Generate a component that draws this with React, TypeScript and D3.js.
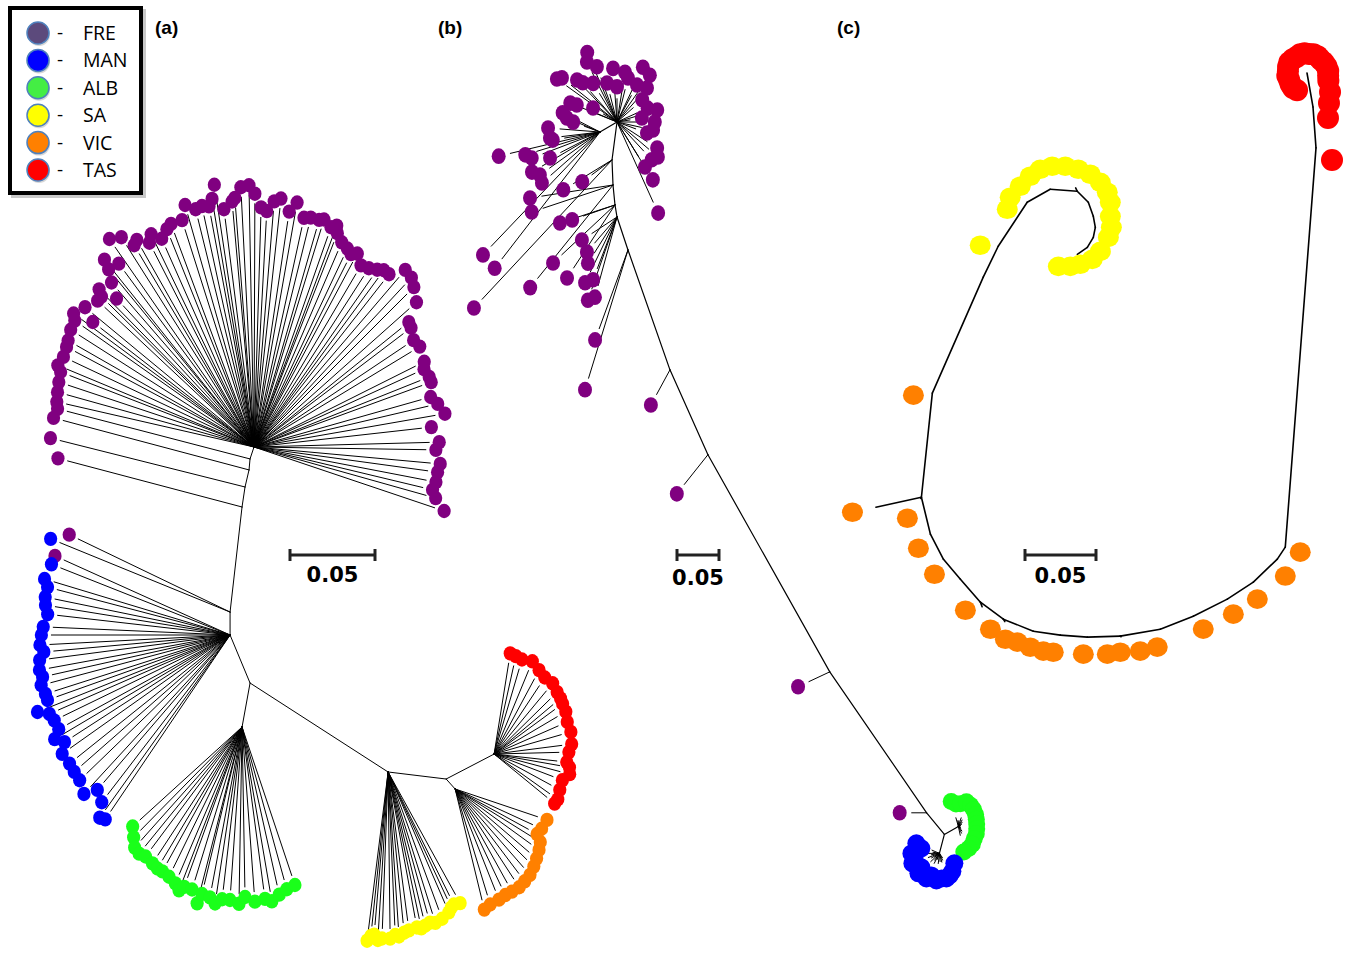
import React from "react";
import * as d3 from "d3";

// ---------- legend / labels ----------
const POPS = ["FRE", "MAN", "ALB", "SA", "VIC", "TAS"];
const PANEL_LABELS = ["(a)", "(b)", "(c)"];
const SCALE_BAR_VALUE = 50; // 0.05 substitutions per site, branch lengths below are in 0.001 units
const SCALE_BAR_LABEL = "0.05";

// ---------- panel (a): NJ tree, edges = [node, parent, angle°, length] ----------
const A_EDGES: [string, string, number, number][] = [
  ["t1", "FRE", -161.6, 7.4], ["t2", "t1", -174.8, 6.5], ["t3", "t2", -166.8, 10.3],
  ["n2", "t3", -171.5, 11.9], ["n3", "n2", -173.5, 62.2], ["MAN", "n3", 180, 13.5],
  ["n5", "MAN", 157.4, 30.6], ["ALB", "n5", -169.7, 26.3], ["SA", "n5", 122.8, 96.6],
  ["n8", "SA", 96.9, 34.4], ["TAS", "n8", 62.5, 31.8], ["VIC", "n8", 138, 7.9],
];
// leaves = [attach node, angle°, length]
const A_FRE: [string, number, number][] = [
  ["n2", -75.2, 112], ["t3", -75.9, 118], ["t2", -75.1, 119], ["t1", -75.4, 117],
  ["FRE", -77.1, 119], ["FRE", -74.4, 120], ["FRE", -71.6, 121], ["FRE", -68.8, 122], ["FRE", -67.4, 125],
  ["FRE", -64.7, 124], ["FRE", -61.9, 125], ["FRE", -60.2, 126], ["FRE", -57.4, 128], ["FRE", -54.8, 129],
  ["FRE", -53.5, 132], ["FRE", -50.4, 129], ["FRE", -52.2, 120], ["FRE", -46.9, 126], ["FRE", -45.4, 126],
  ["FRE", -44.5, 130], ["FRE", -40.9, 128], ["FRE", -42.8, 119], ["FRE", -39.3, 135], ["FRE", -36.4, 134],
  ["FRE", -38.6, 141], ["FRE", -34.8, 149], ["FRE", -32.3, 146], ["FRE", -30.7, 138], ["FRE", -29.5, 140],
  ["FRE", -27.1, 135], ["FRE", -25.8, 139], ["FRE", -23.9, 134], ["FRE", -21.8, 138], ["FRE", -20.4, 140],
  ["FRE", -17.6, 140], ["FRE", -15.9, 148], ["FRE", -13.8, 144], ["FRE", -12.2, 145], ["FRE", -10.6, 144],
  ["FRE", -9.6, 148], ["FRE", -8.6, 156], ["FRE", -7.2, 141], ["FRE", -5.1, 145], ["FRE", -4.4, 147],
  ["FRE", -2.9, 153], ["FRE", -1.1, 154], ["FRE", 0.2, 149], ["FRE", 1.7, 141], ["FRE", 3.1, 139],
  ["FRE", 4.7, 145], ["FRE", 6.2, 147], ["FRE", 8.5, 140], ["FRE", 10.0, 146], ["FRE", 12.3, 138],
  ["FRE", 13.9, 139], ["FRE", 16.0, 139], ["FRE", 17.1, 140], ["FRE", 19.3, 137], ["FRE", 20.5, 139],
  ["FRE", 21.3, 135], ["FRE", 23.2, 131], ["FRE", 25.2, 129], ["FRE", 26.7, 127], ["FRE", 28.1, 129],
  ["FRE", 30.5, 124], ["FRE", 32.7, 125], ["FRE", 34.8, 127], ["FRE", 36.3, 129], ["FRE", 38.0, 129],
  ["FRE", 40.5, 137], ["FRE", 42.9, 136], ["FRE", 45.0, 133], ["FRE", 48.3, 128], ["FRE", 51.1, 117],
  ["FRE", 52.8, 116], ["FRE", 56.2, 113], ["FRE", 58.8, 114], ["FRE", 63.4, 112], ["FRE", 65.4, 110],
  ["FRE", 68.2, 111], ["FRE", 69.9, 111], ["FRE", 74.2, 108], ["FRE", 76.8, 111], ["FRE", 80.1, 114],
  ["FRE", 83.6, 105], ["FRE", 88.5, 109], ["FRE", 90.9, 107], ["FRE", 95.2, 110], ["FRE", 97.8, 109],
  ["FRE", 100.9, 109], ["FRE", 103.5, 108], ["FRE", 105.7, 111], ["FRE", 108.6, 118],
  ["n3", -64.3, 105], ["MAN", -65.7, 113],
];
const A_MAN: [string, number, number][] = [
  ["n3", -67.8, 114],
  ["MAN", -68.4, 113], ["MAN", -73.2, 114], ["MAN", -75.3, 111], ["MAN", -78.4, 111], ["MAN", -80.8, 110],
  ["MAN", -83.5, 108], ["MAN", -87.5, 110], ["MAN", -90, 111], ["MAN", -93, 112], ["MAN", -95.2, 110],
  ["MAN", -97.5, 113], ["MAN", -100.4, 114], ["MAN", -102.6, 113], ["MAN", -104.9, 115], ["MAN", -107.7, 114],
  ["MAN", -109.6, 114], ["MAN", -111.8, 122], ["MAN", -113.6, 116], ["MAN", -115.9, 115], ["MAN", -118.8, 115],
  ["MAN", -120.7, 120], ["MAN", -122.9, 116], ["MAN", -125.3, 121], ["MAN", -128.7, 121], ["MAN", -131.3, 122],
  ["MAN", -134.0, 123], ["MAN", -137.4, 127], ["MAN", -139.4, 120], ["MAN", -142.5, 124], ["MAN", -144.5, 132],
  ["MAN", -145.9, 131],
];
const A_ALB: [string, number, number][] = [
  ["ALB", -132.3, 87], ["ALB", -135.5, 91], ["ALB", -138.3, 95], ["ALB", -140.9, 96], ["ALB", -143.3, 95],
  ["ALB", -146.7, 96], ["ALB", -149.1, 97], ["ALB", -151.1, 97], ["ALB", -154.0, 98], ["ALB", -156.9, 100],
  ["ALB", -158.9, 103], ["ALB", -160.1, 100], ["ALB", -162.9, 100], ["ALB", -165.7, 107], ["ALB", -166.5, 101],
  ["ALB", -169.3, 102], ["ALB", -171.3, 105], ["ALB", -173.4, 102], ["ALB", -176.0, 102], ["ALB", -179.0, 104],
  ["ALB", 179.0, 100], ["ALB", 175.8, 103], ["ALB", 172.4, 102], ["ALB", 170.3, 104], ["ALB", 167.5, 101],
  ["ALB", 164.6, 99], ["ALB", 161.5, 98],
];
const A_SA: [string, number, number][] = [
  ["SA", -172.9, 100], ["SA", -174.0, 97], ["SA", -175.1, 96], ["SA", -176.5, 99], ["SA", -177.9, 98],
  ["SA", 179.3, 98], ["SA", 177.5, 96], ["SA", 176.2, 97], ["SA", 174.3, 95], ["SA", 172.5, 94],
  ["SA", 169.5, 93], ["SA", 168.0, 94], ["SA", 166.4, 93], ["SA", 164.5, 92], ["SA", 162.6, 93],
  ["SA", 159.8, 92], ["SA", 156.6, 90], ["SA", 155.0, 88], ["SA", 153.6, 87], ["SA", 151.2, 88],
];
const A_VIC: [string, number, number][] = [
  ["VIC", 166.4, 73], ["VIC", 163.1, 71], ["VIC", 158.4, 70], ["VIC", 154.7, 69], ["VIC", 151.0, 69],
  ["VIC", 146.9, 69], ["VIC", 143.0, 68], ["VIC", 138.9, 67], ["VIC", 134.6, 65], ["VIC", 130.5, 63],
  ["VIC", 126.0, 61], ["VIC", 121.9, 59], ["VIC", 118.8, 55], ["VIC", 114.7, 56], ["VIC", 108.6, 57],
];
const A_TAS: [string, number, number][] = [
  ["TAS", 9.1, 60], ["TAS", 12.5, 59], ["TAS", 16.4, 58], ["TAS", 22.4, 59], ["TAS", 28.2, 56],
  ["TAS", 33.5, 54], ["TAS", 39.6, 54], ["TAS", 45.5, 52], ["TAS", 50.0, 51], ["TAS", 53.7, 50],
  ["TAS", 59.4, 49], ["TAS", 66.3, 47], ["TAS", 73.9, 47], ["TAS", 82.7, 46], ["TAS", 88.5, 44],
  ["TAS", 96.3, 43], ["TAS", 100.0, 45], ["TAS", 104.9, 46], ["TAS", 110.9, 43], ["TAS", 118.6, 44],
  ["TAS", 125.5, 46], ["TAS", 129.3, 46],
];

// ---------- panel (b) ----------
const B_EDGES: [string, string, number, number][] = [
  ["L", "FRE", -120.5, 23.5], ["T1", "FRE", -172.5, 45.6], ["T2", "T1", 177.7, 29.8],
  ["T3", "T2", 174.3, 23.9], ["T4", "T3", 170.5, 14.5], ["P1", "T4", 161.6, 41.4],
  ["B1", "P1", 160.7, 151.2], ["B2", "B1", 155.9, 110.7], ["B3", "B2", 150.7, 296.4],
  ["B4", "B3", 145.5, 203.6], ["B5", "B4", 140.7, 33.3], ["ALB", "B5", 60.3, 19.2],
  ["MAN", "B5", -165.3, 23.3],
];
const B_FRE: [string, number, number][] = [
  ["FRE", -23.2, 90], ["FRE", -26.6, 80], ["FRE", -20.0, 70], ["FRE", -4.2, 64], ["FRE", 25.3, 72],
  ["FRE", -54.4, 88], ["FRE", -51.3, 84], ["FRE", -43.6, 69], ["FRE", -41.1, 62], ["FRE", -31.6, 54],
  ["FRE", -14.4, 48], ["FRE", 0, 42], ["FRE", 14.0, 54], ["FRE", 28.4, 50], ["FRE", 41.4, 54],
  ["FRE", -68.0, 60], ["FRE", -67.0, 52], ["FRE", -59.7, 33], ["FRE", 48.7, 40], ["FRE", 65.7, 40],
  ["FRE", 73.3, 50], ["FRE", 80.9, 30], ["FRE", 90, 45], ["FRE", 102.5, 44], ["FRE", 110.1, 38],
  ["FRE", 123.0, 57], ["FRE", 130.5, 64], ["FRE", 137.4, 61], ["FRE", 148.1, 63], ["FRE", 148.2, 81],
  ["FRE", 155.7, 119], ["FRE", 9.1, 60], ["FRE", 35.1, 68],
  ["L", -62.8, 50], ["L", -67.0, 43], ["L", -69.7, 34], ["L", -85.6, 62], ["L", -96.8, 60],
  ["L", -99.7, 57], ["L", -103.4, 124], ["L", -107.0, 93], ["L", -110.9, 87], ["L", -117.5, 67],
  ["L", -120.5, 94], ["L", -125.6, 88], ["L", -131.3, 92], ["L", -136.4, 202], ["L", -142.3, 205],
  ["T1", -121.5, 68], ["T1", -126.3, 44], ["T1", -137.0, 241],
  ["T2", -98.9, 100], ["T2", -108.4, 102], ["T2", -141.1, 157],
  ["T3", -108.1, 69], ["T3", -109.2, 54], ["T3", -133.1, 101], ["T3", -146.7, 104],
  ["T4", -123.3, 50], ["T4", -139.4, 55], ["T4", -147.8, 65], ["T4", -154.1, 87], ["T4", -159.1, 80],
  ["T4", -160.7, 105], ["T4", -164.6, 99],
  ["P1", -159.9, 114], ["P1", -162.9, 174],
  ["B1", -151.5, 47.6], ["B2", -141.5, 59.5], ["B3", -115.1, 41.7], ["B4", -90, 32.1],
];
const B_ALB: [string, number, number][] = [
  ["ALB", -16, 31], ["ALB", -6, 27], ["ALB", 5, 27], ["ALB", 18, 31], ["ALB", 30, 29],
  ["ALB", 42, 27], ["ALB", 55, 25], ["ALB", 68, 23], ["ALB", 82, 22], ["ALB", 97, 22],
  ["ALB", 112, 23], ["ALB", 128, 24], ["ALB", 142, 27], ["ALB", 155, 29], ["ALB", 168, 31],
];
const B_MAN: [string, number, number][] = [
  ["MAN", -66.5, 29.9], ["MAN", -74.5, 22.3], ["MAN", -80, 28], ["MAN", -90, 33.3], ["MAN", -100, 30],
  ["MAN", -110.3, 34.3], ["MAN", -120, 31], ["MAN", -127.9, 27.1], ["MAN", -133.6, 34.5], ["MAN", -145, 30],
  ["MAN", -152.5, 33.6], ["MAN", -160, 28], ["MAN", -173.7, 32.4], ["MAN", 175, 30], ["MAN", 164.4, 31],
  ["MAN", 155, 29], ["MAN", 144.2, 26.4], ["MAN", 123.7, 21.4],
];

// ---------- panel (c) ----------
const C_EDGES: [string, string, number, number][] = [
  ["c1", "TAS", 170.0, 24.3], ["c2", "c1", 175.8, 28.9], ["c3", "c2", -175.6, 282],
  ["c4", "c3", -146.3, 10.1], ["c5", "c4", -133.8, 23.4], ["c6", "c5", -123.2, 21.9],
  ["c7", "c6", -116.6, 26.8], ["c8", "c7", -111.5, 25.0], ["c9", "c8", -99.9, 28.6],
  ["c10", "c9", -91.7, 23.2], ["c10b", "c10", -85.8, 19.1], ["c11", "c10b", -81.6, 19.2],
  ["c12", "c11", -68.2, 22.7], ["c13", "c12", -53.5, 20.1], ["c14", "c13", -41.0, 21.5],
  ["c15", "c14", -40.4, 18.4], ["c16", "c15", -27.5, 19.9], ["c17", "c16", -13.7, 26.8],
  ["c18", "c17", 6.0, 73.7], ["c19", "c18", 23.7, 89.2], ["c20", "c19", 25.8, 24.2],
  ["c21", "c20", 33.4, 37.1], ["c22", "c21", 60.5, 18.6], ["c23", "c22", 94.2, 19.1],
  ["c24", "c23", 135, 11.0], ["c25", "c24", 160.3, 10.5], ["c26", "c25", 169.7, 7.9],
  ["c27", "c26", -168.7, 7.2], ["c28", "c27", -149.0, 8.2], ["c29", "c28", -125, 8.6],
];
const C_VIC: [string, number, number][] = [
  ["c3", 108.4, 11.1], ["c4", 154.8, 13.2], ["c5", 166.8, 12.3], ["c6", 158.2, 11.4], ["c7", 142.4, 11.5],
  ["c8", -170.5, 12.8], ["c9", 126.9, 17.6], ["c9", 180, 11.3], ["c9", -144.2, 15.6], ["c10", -166.8, 12.3],
  ["c10b", -157.6, 13.0], ["c11", 153.4, 15.7], ["c11", -169.4, 11.5], ["c12", 148.7, 18.9],
  ["c12", 174.3, 14.2], ["c13", 159.7, 20.3], ["c13", -118.1, 12.0], ["c15", -149.0, 12.3],
  ["c16", -139.4, 13.0], ["c17", -146.3, 17.8], ["c17", -102.3, 49.7], ["c18", -96.0, 13.4],
];
const C_SA: [string, number, number][] = [
  ["c20", -86.8, 12.7], ["c21", -109.3, 14.9], ["c21", -73.6, 12.5], ["c21", -23.6, 12.3],
  ["c22", -57.0, 16.8], ["c22", -26.6, 15.7], ["c22", 5.0, 16.3], ["c23", -25.6, 19.5],
  ["c23", 2.6, 15.5], ["c23", 37.4, 15.1], ["c24", 31.0, 16.4], ["c24", 62.2, 15.1],
  ["c25", 50.5, 15.5], ["c25", 90, 12.0], ["c26", 90, 11.3], ["c27", 90, 10.6],
  ["c28", 107.1, 9.6], ["c29", 108.4, 11.1], ["c29", 163.3, 7.3], ["c29", -149.7, 9.8],
  ["c29", -122.3, 15.8],
];
const C_TAS: [string, number, number][] = [
  ["TAS", -150, 14], ["TAS", -137, 14.5], ["TAS", -124, 14], ["TAS", -111, 13.5], ["TAS", -98, 14],
  ["TAS", -85, 13.5], ["TAS", -72, 14], ["TAS", -59, 14.5], ["TAS", -46, 14], ["TAS", -33, 13.5],
  ["TAS", -20, 14], ["TAS", -7, 14], ["TAS", 6, 13.5], ["TAS", 19, 14], ["TAS", 32, 14],
  ["TAS", 45, 13.5], ["TAS", 58, 14], ["TAS", 71, 14.5], ["TAS", 84, 15], ["TAS", 97, 15],
  ["TAS", 110, 16], ["c1", 48.6, 16], ["c1", 76, 11.6], ["c1", 126.3, 13.1], ["c2", 126.9, 14.1],
];

// ---------- styles / layout ----------
const LEGEND_FILL: Record<string, string> = {
  FRE: "#5c4a7c", MAN: "#0000ff", ALB: "#44ee44", SA: "#ffff00", VIC: "#ff8000", TAS: "#ff0000",
};
const TREE_FILL: Record<string, string> = {
  FRE: "#800080", MAN: "#0000ff", ALB: "#1aff1a", SA: "#ffff00", VIC: "#ff8000", TAS: "#ff0000",
};

type Panel = {
  label: string; labelX: number; root: string; origin: [number, number]; ppu: number;
  edges: [string, string, number, number][];
  leaves: { pop: string; data: [string, number, number][] }[];
  gap: Record<string, number>; rx: Record<string, number>; ry: Record<string, number>;
  lw: number; leafLw: number; barX: number; barY: number; barTextY: number;
};

const PANELS: Panel[] = [
  {
    label: PANEL_LABELS[0], labelX: 155, root: "FRE", origin: [254, 447], ppu: 1.7, edges: A_EDGES,
    leaves: [
      { pop: "FRE", data: A_FRE }, { pop: "MAN", data: A_MAN }, { pop: "ALB", data: A_ALB },
      { pop: "SA", data: A_SA }, { pop: "VIC", data: A_VIC }, { pop: "TAS", data: A_TAS },
    ],
    gap: { default: 10 }, rx: { default: 6.6 }, ry: { default: 7.2 },
    lw: 1, leafLw: 1, barX: 290, barY: 555, barTextY: 582,
  },
  {
    label: PANEL_LABELS[1], labelX: 438, root: "FRE", origin: [617, 122], ppu: 0.84, edges: B_EDGES,
    leaves: [{ pop: "FRE", data: B_FRE }, { pop: "ALB", data: B_ALB }, { pop: "MAN", data: B_MAN }],
    gap: { default: 12, ALB: 17, MAN: 17 }, rx: { default: 7, ALB: 8.5, MAN: 9 }, ry: { default: 7.8, ALB: 8.5, MAN: 9 },
    lw: 1.2, leafLw: 1, barX: 677, barY: 555, barTextY: 585,
  },
  {
    label: PANEL_LABELS[2], labelX: 837, root: "TAS", origin: [1307, 73], ppu: 1.42, edges: C_EDGES,
    leaves: [{ pop: "VIC", data: C_VIC }, { pop: "SA", data: C_SA }, { pop: "TAS", data: C_TAS }],
    gap: { default: 24 }, rx: { default: 10.5, TAS: 11 }, ry: { default: 9.8, TAS: 11 },
    lw: 1.6, leafLw: 1.6, barX: 1025, barY: 555, barTextY: 583,
  },
];

const rad = (a: number) => (a * Math.PI) / 180;
const step = (from: [number, number], ang: number, r: number): [number, number] => [
  from[0] + r * Math.sin(rad(ang)),
  from[1] - r * Math.cos(rad(ang)),
];

function TreePanel({ p }: { p: Panel }) {
  const len = d3.scaleLinear().domain([0, SCALE_BAR_VALUE]).range([0, SCALE_BAR_VALUE * p.ppu]);
  const pos = new Map<string, [number, number]>();
  pos.set(p.root, p.origin);
  p.edges.forEach(([n, par, a, l]) => pos.set(n, step(pos.get(par)!, a, len(l))));

  const marks: { pop: string; from: [number, number]; tip: [number, number]; end: [number, number] | null }[] = [];
  p.leaves.forEach(({ pop, data }) => {
    data.forEach(([par, a, l]) => {
      const from = pos.get(par)!;
      const r = len(l);
      const g = p.gap[pop] ?? p.gap.default;
      marks.push({ pop, from, tip: step(from, a, r), end: r > g ? step(from, a, r - g) : null });
    });
  });

  const barW = len(SCALE_BAR_VALUE);
  return (
    <g>
      <text x={p.labelX} y={34} fontSize={19} fontWeight="bold" fontFamily="Liberation Sans, Arial, sans-serif">
        {p.label}
      </text>
      <g stroke="#000" strokeLinecap="round">
        {p.edges.map(([n, par]) => {
          const a = pos.get(par)!, b = pos.get(n)!;
          return <line key={"e" + n} x1={a[0]} y1={a[1]} x2={b[0]} y2={b[1]} strokeWidth={p.lw} />;
        })}
        {marks.map((m, i) =>
          m.end ? (
            <line key={"l" + i} x1={m.from[0]} y1={m.from[1]} x2={m.end[0]} y2={m.end[1]} strokeWidth={p.leafLw} />
          ) : null
        )}
      </g>
      <g>
        {marks.map((m, i) => (
          <ellipse
            key={"d" + i}
            cx={m.tip[0]}
            cy={m.tip[1]}
            rx={p.rx[m.pop] ?? p.rx.default}
            ry={p.ry[m.pop] ?? p.ry.default}
            fill={TREE_FILL[m.pop]}
          />
        ))}
      </g>
      <g stroke="#222" strokeWidth={3}>
        <line x1={p.barX} y1={p.barY} x2={p.barX + barW} y2={p.barY} />
        <line x1={p.barX} y1={p.barY - 6} x2={p.barX} y2={p.barY + 6} />
        <line x1={p.barX + barW} y1={p.barY - 6} x2={p.barX + barW} y2={p.barY + 6} />
      </g>
      <text
        x={p.barX + barW / 2}
        y={p.barTextY}
        textAnchor="middle"
        fontSize={21}
        fontWeight="bold"
        fontFamily="DejaVu Sans, Verdana, sans-serif"
      >
        {SCALE_BAR_LABEL}
      </text>
    </g>
  );
}

function Legend() {
  const y = d3.scalePoint<string>().domain(POPS).range([33, 170]);
  return (
    <g>
      <rect x={13} y={11} width={131} height={185} fill="none" stroke="#9a9a9a" strokeWidth={4} opacity={0.55} />
      <rect x={10} y={8} width={131} height={185} fill="#fff" stroke="#000" strokeWidth={4} />
      {POPS.map((pop) => (
        <g key={pop}>
          <circle cx={39} cy={y(pop)! + 2} r={11} fill="#b0b0b0" opacity={0.5} />
          <circle cx={38} cy={y(pop)!} r={11} fill={LEGEND_FILL[pop]} stroke="#4f81bd" strokeWidth={1.5} />
          <text x={57} y={y(pop)! + 6} fontSize={19} fontFamily="Open Sans, sans-serif">-</text>
          <text x={83} y={y(pop)! + 7} fontSize={19.5} fontFamily="Open Sans, sans-serif">{pop}</text>
        </g>
      ))}
    </g>
  );
}

export default function App() {
  return (
    <svg width={1346} height={954} style={{ position: "absolute", left: 0, top: 0, display: "block" }}>
      <rect width={1346} height={954} fill="#fff" />
      {PANELS.map((p) => (
        <TreePanel key={p.label} p={p} />
      ))}
      <Legend />
    </svg>
  );
}
